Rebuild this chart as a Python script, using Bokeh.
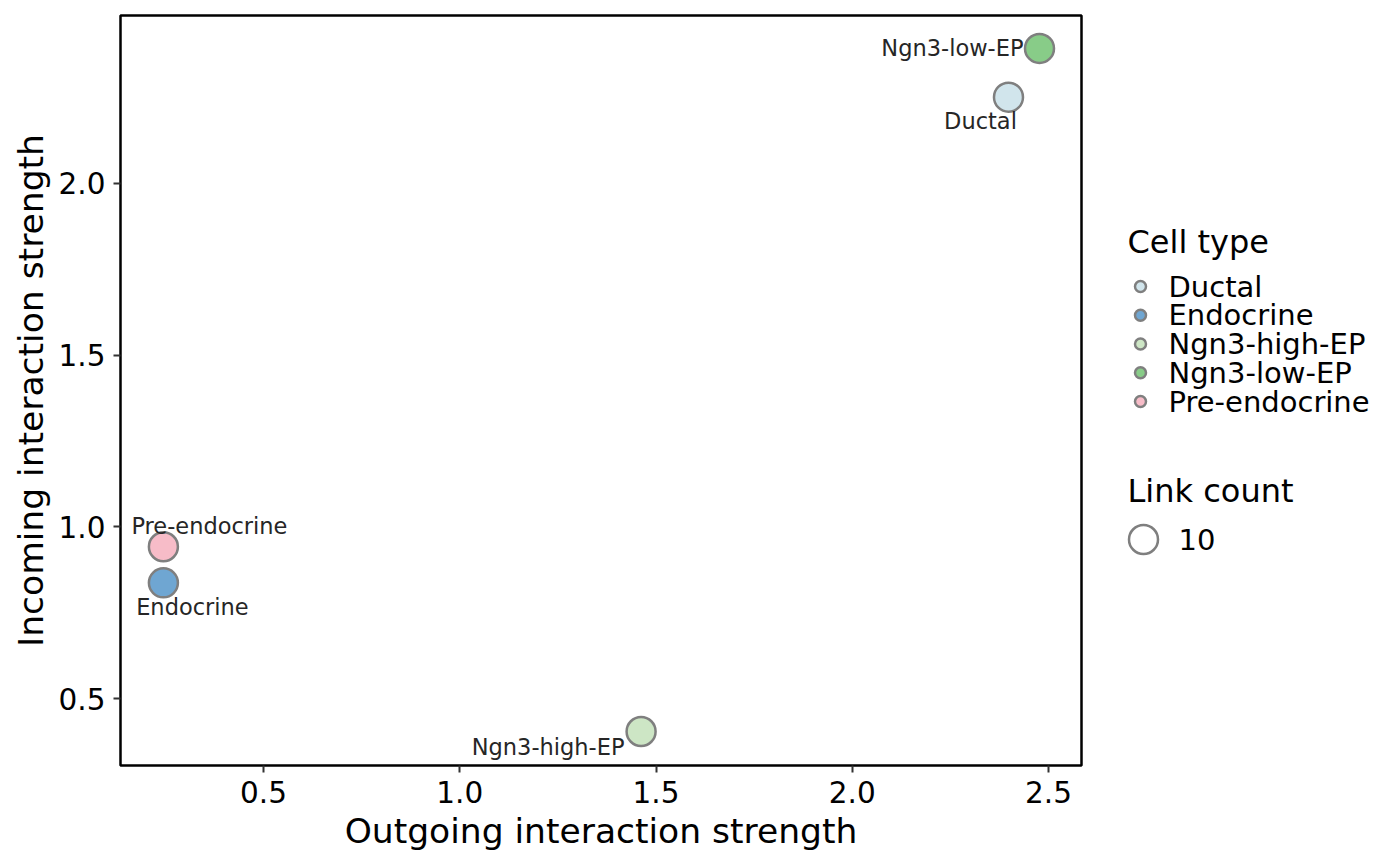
from bokeh.plotting import figure
from bokeh.models import Range1d, ColumnDataSource
from bokeh.layouts import row
from bokeh.embed import file_html
from bokeh.resources import INLINE
from bokeh.core.properties import value

# ---- data ----
cell_types = ["Ductal", "Endocrine", "Ngn3-high-EP", "Ngn3-low-EP", "Pre-endocrine"]
outgoing = [2.398, 0.245, 1.462, 2.477, 0.245]
incoming = [2.251, 0.837, 0.404, 2.393, 0.942]
link_count = [10, 10, 10, 10, 10]
x_ticks = [0.5, 1.0, 1.5, 2.0, 2.5]
x_tick_labels = ["0.5", "1.0", "1.5", "2.0", "2.5"]
y_ticks = [0.5, 1.0, 1.5, 2.0]
y_tick_labels = ["0.5", "1.0", "1.5", "2.0"]
legend_sizes = [10]

# ---- styles ----
colors = ["#d1e5ec", "#6fa6d2", "#cde6c5", "#88cc88", "#f7bcc8"]
FONT = value("DejaVu Sans")
# label placement (pixel offsets relative to point; text_align)
label_dx = [-28, 29, -93, -16, 46]
label_dy = [24, 24, 15, 0, -21]
label_align = ["center", "center", "center", "right", "center"]

src = ColumnDataSource(dict(x=outgoing, y=incoming, name=cell_types, color=colors,
                            dx=label_dx, dy=label_dy, align=label_align, n=link_count))

TOP, FRAME_H, H = 15, 750, 862
LEFT, FRAME_W, RIGHT = 120, 961, 10
W = LEFT + FRAME_W + RIGHT

p = figure(width=W, height=H, x_range=Range1d(0.1357, 2.584), y_range=Range1d(0.305, 2.489),
           output_backend="svg", toolbar_location=None,
           min_border_left=LEFT, min_border_right=RIGHT, min_border_top=TOP,
           min_border_bottom=H - TOP - FRAME_H)
p.grid.visible = False
p.outline_line_color = "black"
p.outline_line_width = 2.5
p.background_fill_color = "white"

p.scatter("x", "y", source=src, size=29, fill_color="color", line_color="#7f7f7f", line_width=2.5)
p.text("x", "y", text="name", source=src, x_offset="dx", y_offset="dy", text_align="align",
       text_baseline="middle", text_font=FONT, text_font_size="22.5px", text_color="#262626")

p.xaxis.ticker = x_ticks
p.xaxis.major_label_overrides = {t: l for t, l in zip(x_ticks, x_tick_labels)}
p.yaxis.ticker = y_ticks
p.yaxis.major_label_overrides = {t: l for t, l in zip(y_ticks, y_tick_labels)}
p.xaxis.axis_label = "Outgoing interaction strength"
p.yaxis.axis_label = "Incoming interaction strength"
for ax in (p.xaxis, p.yaxis):
    ax.axis_line_color = None
    ax.major_tick_in = 0
    ax.major_tick_out = 7
    ax.major_tick_line_color = "#333333"
    ax.major_tick_line_width = 2
    ax.minor_tick_line_color = None
    ax.major_label_text_font = "DejaVu Sans"
    ax.major_label_text_font_size = "29.5px"
    ax.major_label_text_color = "black"
    ax.axis_label_text_font = "DejaVu Sans"
    ax.axis_label_text_font_size = "34.5px"
    ax.axis_label_text_font_style = "normal"
    ax.axis_label_text_color = "black"
p.xaxis.major_label_standoff = 8
p.xaxis.axis_label_standoff = 5
p.yaxis.major_label_standoff = 8
p.yaxis.axis_label_standoff = 5

# ---- legend panel (coordinates in page pixels) ----
LW = 1384 - W
lg = figure(width=LW, height=H, x_range=Range1d(W, W + LW), y_range=Range1d(TOP + FRAME_H, TOP),
            output_backend="svg", toolbar_location=None, min_border_left=0, min_border_right=0,
            min_border_top=TOP, min_border_bottom=H - TOP - FRAME_H)
lg.axis.visible = False
lg.grid.visible = False
lg.outline_line_color = None

title_x, key_x, text_x = 1127, 1140, 1168
row0, step = 286, 28.75
ly = [row0 + i * step for i in range(len(cell_types))]
lg.text([title_x], [241], text=["Cell type"], text_font=FONT, text_font_size="32px",
        text_baseline="middle", text_color="black")
lg.scatter([key_x] * len(cell_types), ly, size=11, fill_color=colors, line_color="#7f7f7f", line_width=2.5)
lg.text([text_x] * len(cell_types), ly, text=cell_types, text_font=FONT, text_font_size="29px",
        text_baseline="middle", text_color="black")

lg.text([title_x], [490], text=["Link count"], text_font=FONT, text_font_size="32px",
        text_baseline="middle", text_color="black")
lg.scatter([1143], [539], size=29, fill_color=None, line_color="#7f7f7f", line_width=2.5)
lg.text([1178], [539], text=[str(s) for s in legend_sizes], text_font=FONT, text_font_size="29px",
        text_baseline="middle", text_color="black")

layout = row(p, lg)
open("out.html", "w").write(file_html(layout, INLINE))
